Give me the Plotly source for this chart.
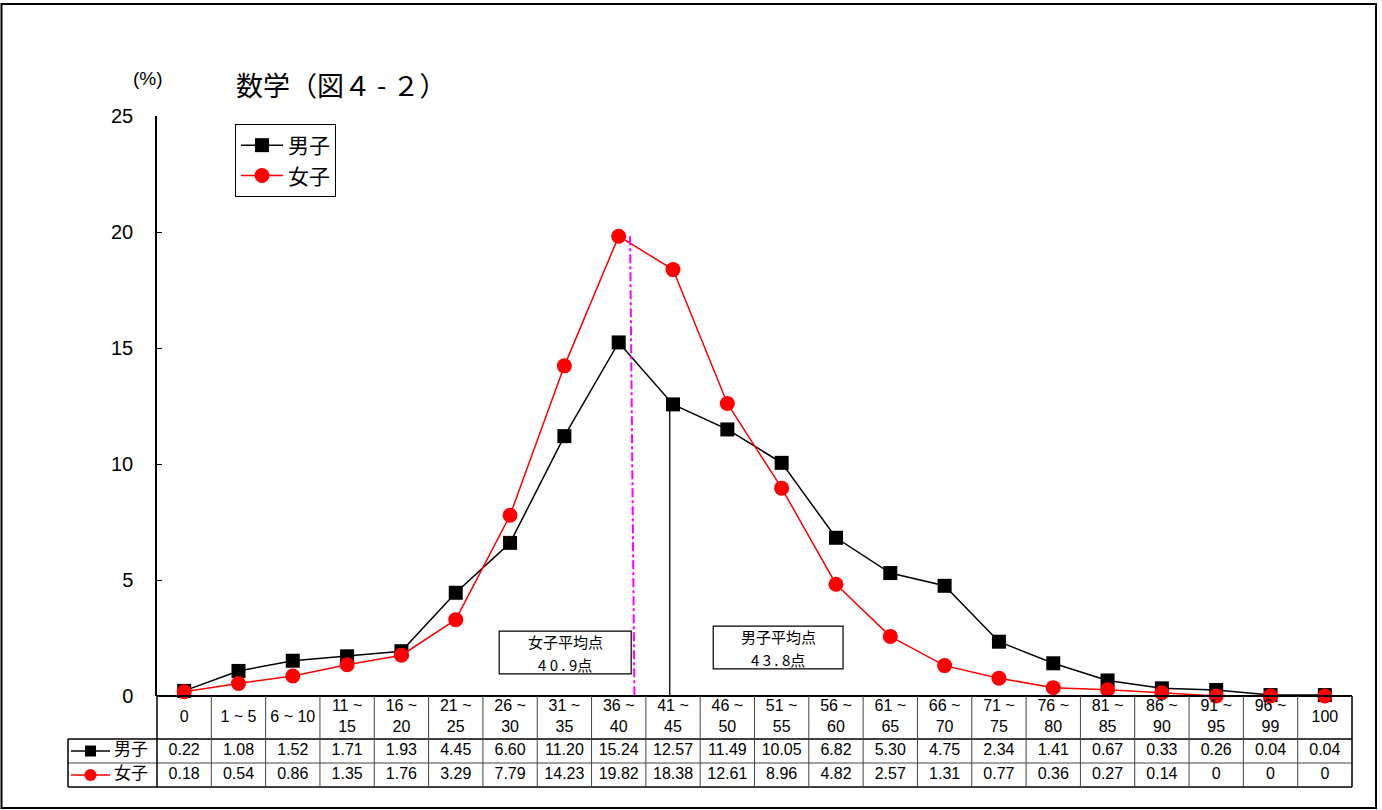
import plotly.graph_objects as go

# Score bands (columns of the data table) and percentages per band
categories = ["0", "1 ~ 5", "6 ~ 10", "11 ~<br>15", "16 ~<br>20", "21 ~<br>25",
              "26 ~<br>30", "31 ~<br>35", "36 ~<br>40", "41 ~<br>45", "46 ~<br>50",
              "51 ~<br>55", "56 ~<br>60", "61 ~<br>65", "66 ~<br>70", "71 ~<br>75",
              "76 ~<br>80", "81 ~<br>85", "86 ~<br>90", "91 ~<br>95", "96 ~<br>99", "100"]
male = [0.22, 1.08, 1.52, 1.71, 1.93, 4.45, 6.60, 11.20, 15.24, 12.57, 11.49,
        10.05, 6.82, 5.30, 4.75, 2.34, 1.41, 0.67, 0.33, 0.26, 0.04, 0.04]
female = [0.18, 0.54, 0.86, 1.35, 1.76, 3.29, 7.79, 14.23, 19.82, 18.38, 12.61,
          8.96, 4.82, 2.57, 1.31, 0.77, 0.36, 0.27, 0.14, 0, 0, 0]
series_names = ["男子", "女子"]
y_ticks = [0, 5, 10, 15, 20, 25]

# Average markers (x in band-index units)
female_avg_lines = ["女子平均点", "4 0 . 9点"]
male_avg_lines = ["男子平均点", "4 3 . 8点"]
female_avg_x = [8.21, 8.29]
male_avg_x = 8.94

W, H = 1382, 810
JP = "Noto Sans CJK JP"
NUM = "Liberation Sans Narrow, Liberation Sans, Arial"

n = len(categories)
xs = list(range(n))

def fmt(v):
    return "0" if v == 0 else f"{v:.2f}"

# geometry of the plotting area in pixels
px_left, px_right = 157, 1352
px_top, px_zero = 116, 696
unit = (px_right - px_left) / n
y_unit = (px_zero - px_top) / 25.0
label_left = 68
tbl_bottom = 787
row_h = 24.0

def px_x(p):
    return p / W

def px_y(p):
    return 1 - p / H

fig = go.Figure()

# main series
fig.add_trace(go.Scatter(x=xs, y=male, name=series_names[0], mode="lines+markers",
                         line=dict(color="black", width=1.5),
                         marker=dict(symbol="square", size=14, color="black"),
                         cliponaxis=False, xaxis="x", yaxis="y"))
fig.add_trace(go.Scatter(x=xs, y=female, name=series_names[1], mode="lines+markers",
                         line=dict(color="red", width=1.5),
                         marker=dict(symbol="circle", size=15, color="red"),
                         cliponaxis=False, xaxis="x", yaxis="y"))

# average lines
fig.add_trace(go.Scatter(x=[male_avg_x, male_avg_x], y=[0, male[9]], mode="lines",
                         line=dict(color="black", width=1.3), showlegend=False,
                         hoverinfo="skip", xaxis="x", yaxis="y"))
fig.add_trace(go.Scatter(x=female_avg_x, y=[female[8], 0], mode="lines",
                         line=dict(color="#FF00FF", width=2, dash="dashdot"),
                         showlegend=False, hoverinfo="skip", xaxis="x", yaxis="y"))

# ---- data table (x2 / y2) ----
pad_px = 2
x2_lo = -0.5 - (px_left - label_left) / unit
x2_range = [x2_lo - pad_px / unit, n - 0.5 + pad_px / unit]
cat_row_h = (tbl_bottom - px_zero) / row_h - 2  # category row height in row units
y2_top = 2 + cat_row_h
y2_range = [-pad_px / row_h, y2_top + pad_px / row_h]

cell_font = dict(family=NUM, size=16, color="black")
fig.add_trace(go.Scatter(x=xs, y=[2 + cat_row_h / 2] * n, text=categories, mode="text",
                         textfont=cell_font,
                         showlegend=False, hoverinfo="skip", xaxis="x2", yaxis="y2"))
fig.add_trace(go.Scatter(x=xs, y=[1.5] * n, text=[fmt(v) for v in male], mode="text",
                         textfont=cell_font,
                         showlegend=False, hoverinfo="skip", xaxis="x2", yaxis="y2"))
fig.add_trace(go.Scatter(x=xs, y=[0.5] * n, text=[fmt(v) for v in female], mode="text",
                         textfont=cell_font,
                         showlegend=False, hoverinfo="skip", xaxis="x2", yaxis="y2"))

# legend keys in the table's label column
key_x0 = -0.5 - (px_left - 71) / unit
key_x1 = -0.5 - (px_left - 110) / unit
key_xm = (key_x0 + key_x1) / 2
key_tx = -0.5 - (px_left - 131) / unit
for row_y, col, sym, sz, name in [(1.5, "black", "square", 11, series_names[0]),
                                  (0.5, "red", "circle", 12, series_names[1])]:
    fig.add_trace(go.Scatter(x=[key_x0, key_x1], y=[row_y, row_y], mode="lines",
                             line=dict(color=col, width=1.5), showlegend=False,
                             hoverinfo="skip", xaxis="x2", yaxis="y2"))
    fig.add_trace(go.Scatter(x=[key_xm], y=[row_y], mode="markers",
                             marker=dict(symbol=sym, size=sz, color=col),
                             showlegend=False, hoverinfo="skip", xaxis="x2", yaxis="y2"))
    fig.add_trace(go.Scatter(x=[key_tx], y=[row_y], text=[name], mode="text",
                             textfont=dict(family=JP, size=17, color="black"),
                             showlegend=False, hoverinfo="skip", xaxis="x2", yaxis="y2"))

shapes = []
grid = dict(color="#444444", width=1)
outer = dict(color="black", width=1.5)
# horizontal rules
shapes.append(dict(type="line", xref="x2", yref="y2", x0=x2_lo, x1=n - 0.5, y0=0, y1=0, line=outer))
shapes.append(dict(type="line", xref="x2", yref="y2", x0=x2_lo, x1=n - 0.5, y0=1, y1=1, line=grid))
shapes.append(dict(type="line", xref="x2", yref="y2", x0=x2_lo, x1=n - 0.5, y0=2, y1=2, line=outer))
shapes.append(dict(type="line", xref="x2", yref="y2", x0=-0.5, x1=n - 0.5, y0=y2_top, y1=y2_top,
                   line=dict(color="black", width=2)))
# vertical rules
shapes.append(dict(type="line", xref="x2", yref="y2", x0=x2_lo, x1=x2_lo, y0=0, y1=2, line=outer))
for k in range(n + 1):
    xv = k - 0.5
    shapes.append(dict(type="line", xref="x2", yref="y2", x0=xv, x1=xv, y0=0, y1=y2_top,
                       line=outer if k in (0, n) else grid))
# outer frame of the figure
shapes.append(dict(type="rect", xref="paper", yref="paper",
                   x0=px_x(1.5), x1=px_x(1376), y0=px_y(808), y1=px_y(4),
                   line=dict(color="black", width=2), fillcolor="rgba(0,0,0,0)", layer="below"))

# boxes around the average labels (data units of the main plot)
avg_boxes = [
    (female_avg_lines, 5.80, 8.23, 0.95, 2.80),
    (male_avg_lines, 9.74, 12.13, 1.17, 3.01),
]
annotations = [
    dict(text="数学（図４ - ２）", xref="paper", yref="paper", x=px_x(234), y=px_y(84),
         xanchor="left", yanchor="middle", showarrow=False,
         font=dict(family=JP, size=27, color="black")),
    dict(text="(%)", xref="paper", yref="paper", x=px_x(148), y=px_y(78),
         xanchor="center", yanchor="middle", showarrow=False,
         font=dict(family=NUM, size=19, color="black")),
]
for lines, bx0, bx1, by0, by1 in avg_boxes:
    shapes.append(dict(type="rect", xref="x", yref="y", x0=bx0, x1=bx1, y0=by0, y1=by1,
                       line=dict(color="black", width=1.2), fillcolor="white", layer="below"))
    for j, t in enumerate(lines):
        # first line 10 px below the top edge, second line 23 px lower
        annotations.append(dict(text=t, xref="x", yref="y", x=(bx0 + bx1) / 2,
                                y=by1 - (10 + 23 * j) / y_unit, showarrow=False,
                                xanchor="center", yanchor="middle", borderpad=0,
                                font=dict(family=JP, size=15, color="black")))

fig.update_layout(
    template="none",
    width=W, height=H, autosize=False,
    margin=dict(l=0, r=0, t=0, b=0, pad=0, autoexpand=False),
    paper_bgcolor="white", plot_bgcolor="rgba(0,0,0,0)",
    showlegend=True,
    legend=dict(x=px_x(235), y=px_y(124), xanchor="left", yanchor="top",
                bordercolor="black", borderwidth=1, bgcolor="white",
                font=dict(family=JP, size=21, color="black"),
                itemwidth=42, tracegroupgap=0),
    xaxis=dict(domain=[px_x(px_left), px_x(px_right)], range=[-0.5, n - 0.5],
               showgrid=False, zeroline=False, showticklabels=False, ticks="",
               showline=False, anchor="y", automargin=False),
    yaxis=dict(domain=[px_y(px_zero), px_y(px_top)], range=[0, 25], tickvals=y_ticks,
               ticks="inside", ticklen=5, tickcolor="black", showline=True,
               linecolor="black", linewidth=1.5, showgrid=False, zeroline=False,
               tickfont=dict(family=NUM, size=20, color="black"),
               ticklabelstandoff=18, anchor="x", automargin=False),
    xaxis2=dict(domain=[px_x(label_left - pad_px), px_x(px_right + pad_px)], range=x2_range,
                visible=False, anchor="y2", automargin=False),
    yaxis2=dict(domain=[px_y(tbl_bottom + pad_px), px_y(px_zero - pad_px)], range=y2_range,
                visible=False, anchor="x2", automargin=False),
    shapes=shapes,
    annotations=annotations,
    hovermode=False,
)

fig.write_html("out.html")

# keep the page exactly the size of the figure
with open("out.html", encoding="utf-8") as f:
    page = f.read()
page = page.replace("<head>", "<head><style>html,body{margin:0;padding:0;overflow:hidden;}</style>", 1)
with open("out.html", "w", encoding="utf-8") as f:
    f.write(page)
